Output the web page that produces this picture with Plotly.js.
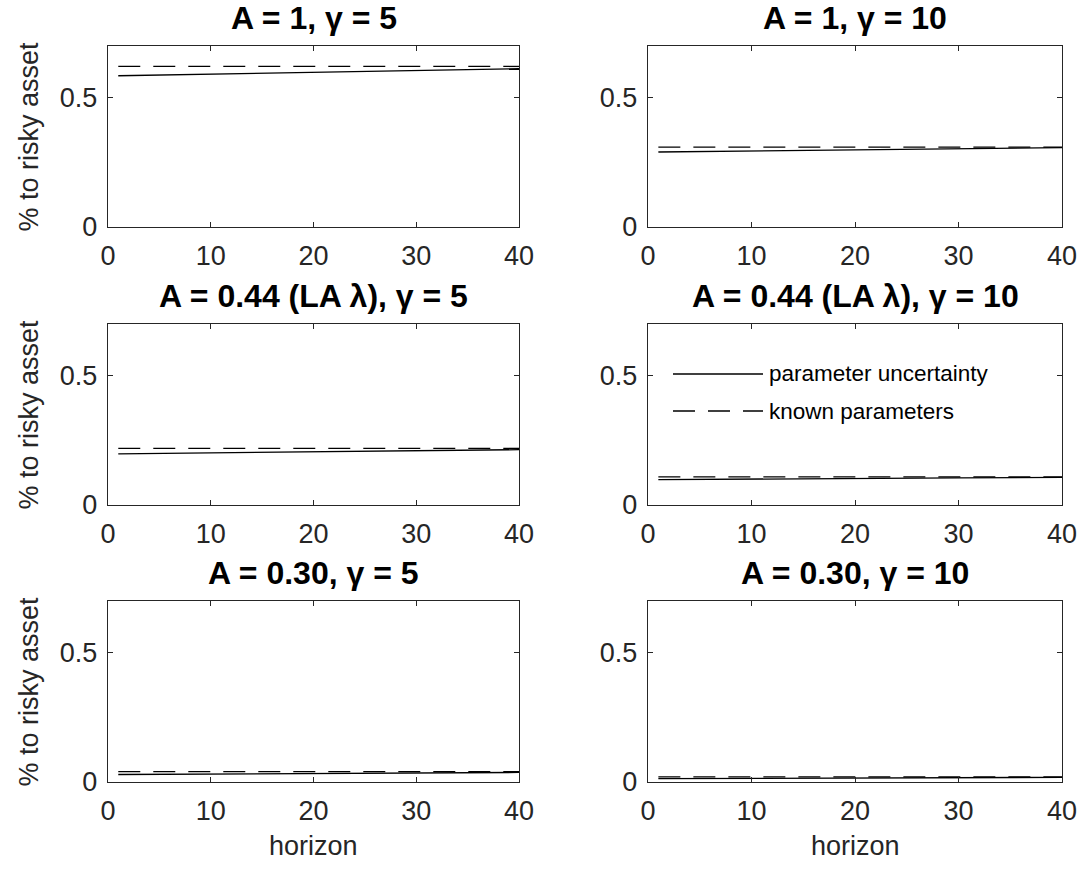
<!DOCTYPE html>
<html><head><meta charset="utf-8">
<script src="https://cdn.plot.ly/plotly-3.0.1.min.js"></script>
<style>html,body{margin:0;padding:0;background:#fff}#chart{width:1085px;height:872px}</style>
</head><body><div id="chart"></div>
<script>
// horizons at which values were read
var horizon = [1, 10, 20, 30, 40];
var titles = ['A = 1, γ = 5', 'A = 1, γ = 10', 'A = 0.44 (LA λ), γ = 5', 'A = 0.44 (LA λ), γ = 10', 'A = 0.30, γ = 5', 'A = 0.30, γ = 10'];
// parameter uncertainty (solid)
var unc1 = [0.585, 0.591, 0.598, 0.605, 0.612];
var unc2 = [0.290, 0.294, 0.298, 0.302, 0.307];
var unc3 = [0.198, 0.202, 0.206, 0.210, 0.214];
var unc4 = [0.098, 0.101, 0.103, 0.105, 0.107];
var unc5 = [0.029, 0.031, 0.033, 0.035, 0.037];
var unc6 = [0.013, 0.014, 0.016, 0.017, 0.018];
// known parameters (dashed)
var known1 = [0.621, 0.621, 0.621, 0.621, 0.621];
var known2 = [0.309, 0.309, 0.309, 0.309, 0.309];
var known3 = [0.219, 0.219, 0.219, 0.219, 0.219];
var known4 = [0.109, 0.109, 0.109, 0.109, 0.109];
var known5 = [0.040, 0.040, 0.040, 0.040, 0.040];
var known6 = [0.020, 0.020, 0.020, 0.020, 0.020];
var xTicks = [0, 10, 20, 30, 40];
var yTicks = [0, 0.5];
var legendNames = ['parameter uncertainty', 'known parameters'];

var unc = [unc1, unc2, unc3, unc4, unc5, unc6];
var known = [known1, known2, known3, known4, known5, known6];

var W = 1085, H = 872;
var colL = [108, 519], colR = [648, 1062];
var rows = [[46, 227], [324, 505], [601, 782]];
var font = 'Liberation Sans, Arial, Helvetica, sans-serif';
var axCol = '#262626';
var dashPat = '22px,13px';
var tickSize = 27, titleSize = 32, labelSize = 27, legSize = 22.5;

var data = [], layout = {
  width: W, height: H, margin: {l: 0, r: 0, t: 0, b: 0},
  paper_bgcolor: '#fff', plot_bgcolor: '#fff', showlegend: false,
  font: {family: font, color: axCol, size: tickSize},
  annotations: [], shapes: []
};

for (var i = 0; i < 6; i++) {
  var r = Math.floor(i / 2), c = i % 2;
  var col = c === 0 ? colL : colR;
  var row = rows[r];
  var n = i + 1;
  var xa = n === 1 ? 'x' : 'x' + n, ya = n === 1 ? 'y' : 'y' + n;
  var xk = n === 1 ? 'xaxis' : 'xaxis' + n, yk = n === 1 ? 'yaxis' : 'yaxis' + n;
  data.push({x: horizon, y: unc[i], xaxis: xa, yaxis: ya, mode: 'lines', name: legendNames[0],
    line: {color: '#000', width: 1.3}, hoverinfo: 'skip'});
  data.push({x: horizon, y: known[i], xaxis: xa, yaxis: ya, mode: 'lines', name: legendNames[1],
    line: {color: '#000', width: 1.3, dash: dashPat}, hoverinfo: 'skip'});
  var common = {showline: true, linecolor: axCol, linewidth: 1.2, mirror: 'ticks', ticks: 'inside',
    ticklen: 5, tickwidth: 1, tickcolor: axCol, showgrid: false, zeroline: false,
    ticklabelstandoff: 4,
    tickfont: {family: font, size: tickSize, color: axCol}, fixedrange: true};
  layout[xk] = Object.assign({}, common, {domain: [col[0] / W, col[1] / W], range: [0, 40],
    tickvals: xTicks, ticktext: xTicks.map(String), anchor: ya});
  layout[yk] = Object.assign({}, common, {domain: [1 - row[1] / H, 1 - row[0] / H], range: [0, 0.7],
    tickvals: yTicks, ticktext: yTicks.map(String), anchor: xa});
  layout.annotations.push({text: '<b>' + titles[i] + '</b>', xref: xa + ' domain', yref: ya + ' domain',
    x: 0.5, y: 1, xanchor: 'center', yanchor: 'middle', yshift: 28, showarrow: false,
    font: {family: font, size: titleSize, color: '#000'}});
  if (c === 0) {
    layout.annotations.push({text: '% to risky asset', xref: xa + ' domain', yref: ya + ' domain',
      x: 0, y: 0.5, xanchor: 'center', yanchor: 'middle', xshift: -80, textangle: -90, showarrow: false,
      font: {family: font, size: labelSize, color: axCol}});
  }
  if (r === 2) {
    layout.annotations.push({text: 'horizon', xref: xa + ' domain', yref: ya + ' domain',
      x: 0.5, y: 0, xanchor: 'center', yanchor: 'middle', yshift: -64, showarrow: false,
      font: {family: font, size: labelSize, color: axCol}});
  }
}

// legend drawn inside panel 4
var legY = [374, 411];
for (var k = 0; k < 2; k++) {
  layout.shapes.push({type: 'line', xref: 'paper', yref: 'paper',
    x0: 673 / W, x1: 763 / W, y0: 1 - legY[k] / H, y1: 1 - legY[k] / H,
    line: {color: '#000', width: 1.3, dash: k === 0 ? 'solid' : dashPat}});
  layout.annotations.push({text: legendNames[k], xref: 'paper', yref: 'paper',
    x: 767 / W, y: 1 - legY[k] / H, xanchor: 'left', yanchor: 'middle', showarrow: false,
    font: {family: font, size: legSize, color: '#000'}});
}

Plotly.newPlot('chart', data, layout, {staticPlot: true, displayModeBar: false});
</script></body></html>
